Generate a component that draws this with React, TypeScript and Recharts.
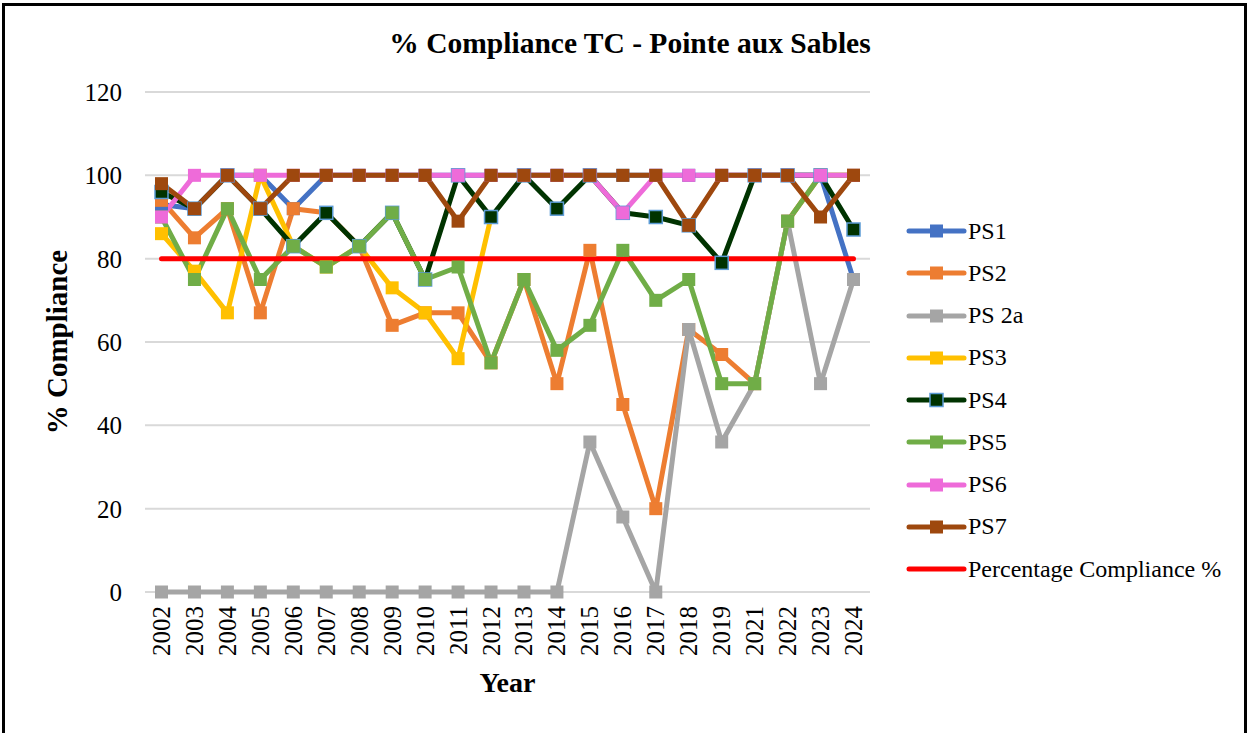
import React from "react";
import { CartesianGrid, Legend, Line, LineChart, XAxis, YAxis } from "recharts";

const years = [
  "2002", "2003", "2004", "2005", "2006", "2007", "2008", "2009", "2010", "2011", "2012",
  "2013", "2014", "2015", "2016", "2017", "2018", "2019", "2021", "2022", "2023", "2024",
];

const ps1 = [93, 92, 100, 100, 92, 100, 100, 100, 100, 100, 100, 100, 100, 100, 100, 100, 100, 100, 100, 100, 100, 75];
const ps2 = [94, 85, 92, 67, 92, 91, 83, 64, 67, 67, 55, 75, 50, 82, 45, 20, 63, 57, 50, 89, 100, 100];
const ps2a = [0, 0, 0, 0, 0, 0, 0, 0, 0, 0, 0, 0, 0, 36, 18, 0, 63, 36, 50, 89, 50, 75];
const ps3 = [86, 77, 67, 100, 83, 78, 83, 73, 67, 56, 90, null, null, null, null, null, null, null, null, null, null, null];
const ps4 = [96, 92, 100, 92, 83, 91, 83, 91, 75, 100, 90, 100, 92, 100, 91, 90, 88, 79, 100, 100, 100, 87];
const ps5 = [90, 75, 92, 75, 83, 78, 83, 91, 75, 78, 55, 75, 58, 64, 82, 70, 75, 50, 50, 89, 100, 100];
const ps6 = [90, 100, 100, 100, 100, 100, 100, 100, 100, 100, 100, 100, 100, 100, 91, 100, 100, 100, 100, 100, 100, 100];
const ps7 = [98, 92, 100, 92, 100, 100, 100, 100, 100, 89, 100, 100, 100, 100, 100, 100, 88, 100, 100, 100, 90, 100];
const target = [80, 80, 80, 80, 80, 80, 80, 80, 80, 80, 80, 80, 80, 80, 80, 80, 80, 80, 80, 80, 80, 80];

const yTicks = [0, 20, 40, 60, 80, 100, 120];

const data = years.map((year, i) => ({
  year,
  ps1: ps1[i],
  ps2: ps2[i],
  ps2a: ps2a[i],
  ps3: ps3[i],
  ps4: ps4[i],
  ps5: ps5[i],
  ps6: ps6[i],
  ps7: ps7[i],
  target: target[i],
}));

const series = [
  { key: "ps1", name: "PS1", color: "#4472C4", fill: "#4472C4", border: "#4472C4", marker: true },
  { key: "ps2", name: "PS2", color: "#ED7D31", fill: "#ED7D31", border: "#ED7D31", marker: true },
  { key: "ps2a", name: "PS 2a", color: "#A5A5A5", fill: "#A5A5A5", border: "#A5A5A5", marker: true },
  { key: "ps3", name: "PS3", color: "#FFC000", fill: "#FFC000", border: "#FFC000", marker: true },
  { key: "ps4", name: "PS4", color: "#003300", fill: "#003300", border: "#5B9BD5", marker: true },
  { key: "ps5", name: "PS5", color: "#70AD47", fill: "#70AD47", border: "#70AD47", marker: true },
  { key: "ps6", name: "PS6", color: "#EE6BD9", fill: "#EE6BD9", border: "#EE6BD9", marker: true },
  { key: "ps7", name: "PS7", color: "#9E480E", fill: "#9E480E", border: "#9E480E", marker: true },
  { key: "target", name: "Percentage Compliance %", color: "#FF0000", fill: "#FF0000", border: "#FF0000", marker: false },
];

const FONT = '"Liberation Serif", "Times New Roman", serif';
const M = 13;

const squareDot = (fill: string, border: string) => (props: any) => {
  const { cx, cy, index, value } = props;
  if (cx == null || cy == null || value == null) return <g key={`e-${index}`} />;
  return (
    <rect
      key={`d-${index}`}
      x={cx - M / 2}
      y={cy - M / 2}
      width={M}
      height={M}
      fill={fill}
      stroke={border}
      strokeWidth={border === fill ? 0 : 1.5}
    />
  );
};

const YearTick = (props: any) => {
  const { x, y, payload } = props;
  return (
    <text
      transform={`translate(${x}, ${y}) rotate(-90)`}
      textAnchor="end"
      dominantBaseline="central"
      fontFamily={FONT}
      fontSize={25}
      fill="#000"
    >
      {payload.value}
    </text>
  );
};

const renderLegend = () => (
  <div style={{ fontFamily: FONT, fontSize: 24, color: "#000" }}>
    {series.map((s) => (
      <div key={s.key} style={{ height: 42.25, display: "flex", alignItems: "center" }}>
        <svg width={62} height={16} style={{ flex: "none" }}>
          <line x1={3} y1={8} x2={58} y2={8} stroke={s.color} strokeWidth={5} strokeLinecap="round" />
          {s.marker && (
            <rect x={30.5 - M / 2} y={8 - M / 2} width={M} height={M} fill={s.fill} stroke={s.border} strokeWidth={s.border === s.fill ? 0 : 1.5} />
          )}
        </svg>
        <span style={{ whiteSpace: "nowrap" }}>{s.name}</span>
      </div>
    ))}
  </div>
);

export default function App() {
  return (
    <div style={{ position: "absolute", left: 0, top: 0, width: 1250, height: 733, background: "#fff", overflow: "hidden" }}>
      <div
        style={{
          position: "absolute",
          left: 2,
          top: 3,
          width: 1245,
          height: 745,
          border: "3px solid #000",
          boxSizing: "border-box",
        }}
      />
      <div
        style={{
          position: "absolute",
          left: 0,
          width: 1260,
          top: 27,
          textAlign: "center",
          fontFamily: FONT,
          fontWeight: "bold",
          fontSize: 29.5,
          color: "#000",
        }}
      >
        % Compliance TC - Pointe aux Sables
      </div>
      <LineChart
        width={1250}
        height={733}
        data={data}
        margin={{ top: 92, right: 380, bottom: 41, left: 65 }}
        style={{ position: "absolute", left: 0, top: 0 }}
      >
        <CartesianGrid vertical={false} stroke="#D9D9D9" strokeWidth={2} />
        <XAxis
          dataKey="year"
          interval={0}
          height={100}
          axisLine={false}
          tickLine={false}
          tickSize={0}
          tickMargin={14}
          padding={{ left: 16.5, right: 16.5 }}
          tick={<YearTick />}
          label={{
            value: "Year",
            position: "insideBottom",
            offset: 0,
            fill: "#000",
            fontFamily: FONT,
            fontWeight: "bold",
            fontSize: 28,
          }}
        />
        <YAxis
          width={80}
          domain={[0, 120]}
          ticks={yTicks}
          axisLine={false}
          tickLine={false}
          tickSize={0}
          tickMargin={23}
          tick={{ fill: "#000", fontFamily: FONT, fontSize: 25 }}
          label={{
            value: "% Compliance",
            angle: -90,
            position: "insideLeft",
            offset: -8,
            fill: "#000",
            fontFamily: FONT,
            fontWeight: "bold",
            fontSize: 29,
            style: { textAnchor: "middle" },
          }}
        />
        <Legend
          layout="vertical"
          align="center"
          verticalAlign="middle"
          content={renderLegend}
          wrapperStyle={{ left: 906, top: 210, width: 340 }}
        />
        {series.map((s) => (
          <Line
            key={s.key}
            dataKey={s.key}
            name={s.name}
            type="linear"
            stroke={s.color}
            strokeWidth={5}
            strokeLinejoin="round"
            strokeLinecap="round"
            dot={s.marker ? squareDot(s.fill, s.border) : false}
            activeDot={false}
            isAnimationActive={false}
            connectNulls={false}
          />
        ))}
      </LineChart>
    </div>
  );
}
